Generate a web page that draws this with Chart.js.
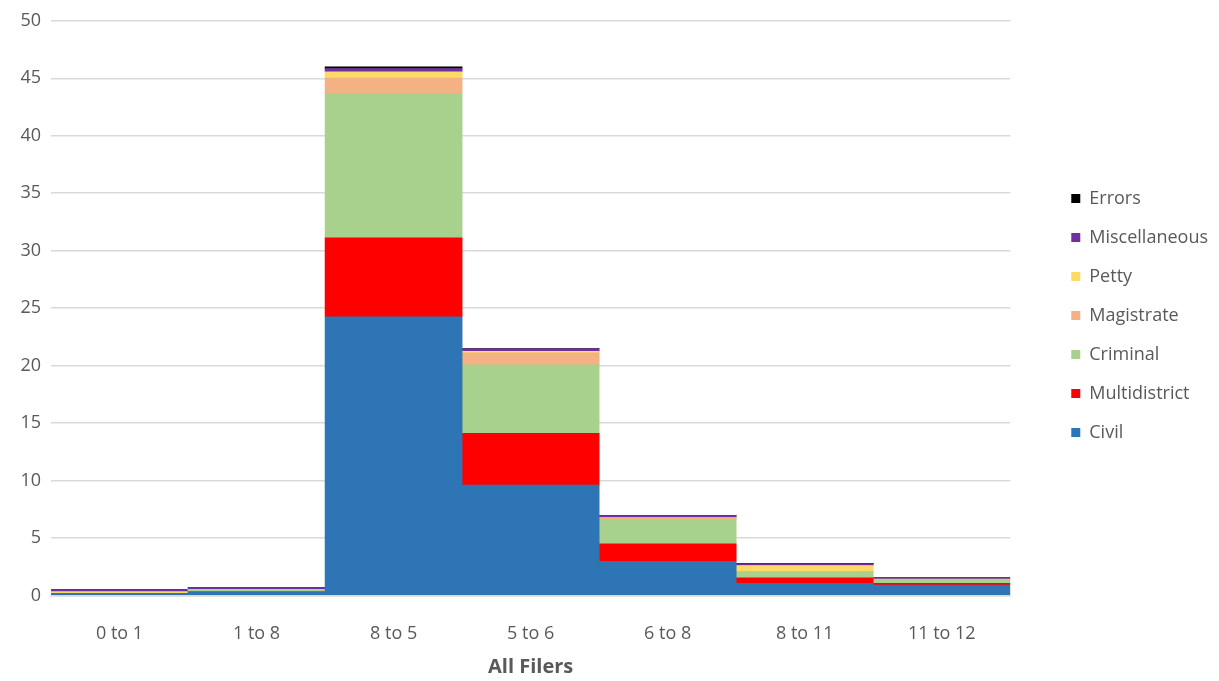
<!DOCTYPE html>
<html>
<head>
<meta charset="utf-8">
<script src="https://cdn.jsdelivr.net/npm/chart.js@4"></script>
<style>
  html, body { margin: 0; padding: 0; background: #fff; }
  #wrap { width: 1219px; height: 681px; }
</style>
</head>
<body>
<div id="wrap"><canvas id="filers"></canvas></div>
<script>
const categories = ['0 to 1', '1 to 8', '8 to 5', '5 to 6', '6 to 8', '8 to 11', '11 to 12'];

const civil = [0.15, 0.3, 24.25, 9.6, 2.97, 1.04, 0.9];
const multidistrict = [0.0, 0.01, 6.87, 4.5, 1.52, 0.49, 0.14];
const criminal = [0.01, 0.18, 12.53, 5.96, 2.13, 0.52, 0.35];
const magistrate = [0.0, 0.01, 1.36, 1.04, 0.1, 0.02, 0.01];
const petty = [0.17, 0.03, 0.55, 0.14, 0.05, 0.53, 0.01];
const miscellaneous = [0.17, 0.15, 0.29, 0.22, 0.18, 0.17, 0.15];
const errors = [0, 0, 0.15, 0.02, 0.01, 0.01, 0.01];

const seriesColors = {
    'Civil': '#2e75b6',
    'Multidistrict': '#ff0000',
    'Criminal': '#a9d18e',
    'Magistrate': '#f4b183',
    'Petty': '#ffd966',
    'Miscellaneous': '#7030a0',
    'Errors': '#000000'
};

const series = [
    ['Civil', civil],
    ['Multidistrict', multidistrict],
    ['Criminal', criminal],
    ['Magistrate', magistrate],
    ['Petty', petty],
    ['Miscellaneous', miscellaneous],
    ['Errors', errors]
];

const textColor = '#595959';
const fontFamily = '"Open Sans", "Noto Sans", sans-serif';

const datasets = series.map(([label, data]) => ({
    label,
    data,
    backgroundColor: seriesColors[label],
    borderWidth: 0,
    barPercentage: 1,
    categoryPercentage: 1
}));

new Chart(document.getElementById('filers'), {
    type: 'bar',
    data: {
        labels: categories,
        datasets
    },
    options: {
        responsive: true,
        maintainAspectRatio: false,
        animation: false,
        layout: {
            padding: { top: 10, bottom: 2, left: 0, right: 1 }
        },
        plugins: {
            legend: {
                position: 'right',
                align: 'start',
                reverse: true,
                title: {
                    // blank title only pushes the items down
                    display: true,
                    text: ' ',
                    padding: { top: 144, bottom: 0 },
                    font: { size: 12 }
                },
                labels: {
                    boxWidth: 9,
                    boxHeight: 9,
                    padding: 21,
                    color: textColor,
                    font: { family: fontFamily, size: 18 }
                }
            },
            tooltip: { enabled: false }
        },
        scales: {
            x: {
                stacked: true,
                grid: { display: false },
                border: { display: true, color: '#d9d9d9', width: 1.5 },
                ticks: {
                    color: textColor,
                    padding: 20,
                    font: { family: fontFamily, size: 18 }
                },
                title: {
                    display: true,
                    text: 'All Filers',
                    color: textColor,
                    padding: { top: -10, bottom: 0 },
                    font: { family: fontFamily, size: 20, weight: 'bold' }
                }
            },
            y: {
                stacked: true,
                min: 0,
                max: 50,
                ticks: {
                    stepSize: 5,
                    color: textColor,
                    padding: 10,
                    font: { family: fontFamily, size: 18 }
                },
                grid: { color: '#d9d9d9', lineWidth: 1.5, drawTicks: false },
                border: { display: false },
                afterFit: scale => { scale.width = 51; }
            },
            gap: {
                position: 'right',
                display: true,
                grid: { display: false },
                border: { display: false },
                ticks: { display: false },
                afterFit: scale => { scale.width = 40; }
            }
        }
    }
});
</script>
</body>
</html>
